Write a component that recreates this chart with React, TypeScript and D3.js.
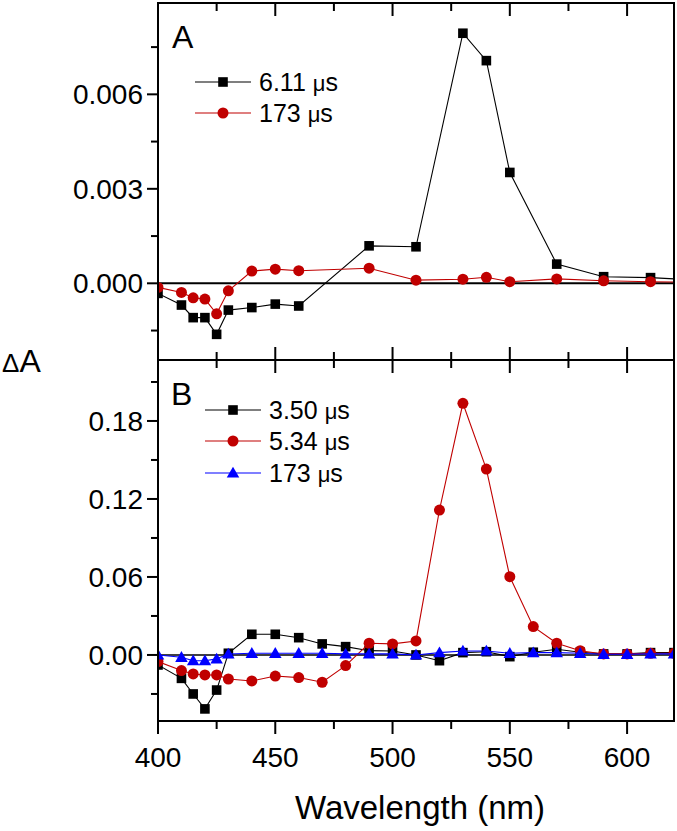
import React from 'react';
import * as d3 from 'd3';

// ---- Data ----
const wlA = [400, 410, 415, 420, 425, 430, 440, 450, 460, 490, 510, 530, 540, 550, 570, 590, 610, 630];
const a611us = [-0.00032, -0.00069, -0.00109, -0.00109, -0.00162, -0.00085, -0.00077, -0.00066, -0.00072, 0.00119, 0.00116, 0.00794, 0.00707, 0.00352, 0.00061, 0.00021, 0.00018, 0.0001];
const a173us = [-0.00013, -0.00029, -0.00046, -0.0005, -0.00097, -0.00024, 0.00039, 0.00045, 0.0004, 0.00048, 0.0001, 0.00013, 0.00019, 0.00005, 0.00014, 0.00008, 0.00005, 0.00003];

const wlB = [400, 410, 415, 420, 425, 430, 440, 450, 460, 470, 480, 490, 500, 510, 520, 530, 540, 550, 560, 570, 580, 590, 600, 610, 620];
const b350us = [-0.0077, -0.018, -0.03, -0.0415, -0.027, 0.0013, 0.0159, 0.0159, 0.0133, 0.0085, 0.0064, 0.0033, 0.0031, 0.0, -0.0044, 0.0018, 0.0025, -0.0013, 0.0021, 0.0044, 0.0021, 0.0008, 0.0008, 0.0018, 0.0018];
const b534us = [-0.0051, -0.012, -0.0146, -0.0154, -0.0154, -0.0185, -0.02, -0.0162, -0.0174, -0.021, -0.0082, 0.009, 0.0085, 0.0108, 0.1115, 0.1936, 0.143, 0.0602, 0.0218, 0.009, 0.0033, 0.0008, 0.0008, 0.0013, 0.0013];
const b173us = [0.0, -0.0018, -0.0044, -0.0044, -0.003, 0.0008, 0.0013, 0.0013, 0.0013, 0.0013, 0.0008, 0.0008, 0.0008, 0.0, 0.0018, 0.0031, 0.0031, 0.0013, 0.0018, 0.0018, 0.0013, 0.0005, 0.0005, 0.0008, 0.0008];

const xTicks = [400, 425, 450, 475, 500, 525, 550, 575, 600];
const xMajor = [400, 450, 500, 550, 600];
const yTicksA = [-0.0015, 0, 0.0015, 0.003, 0.0045, 0.006, 0.0075];
const yMajorA = [0, 0.003, 0.006];
const yTicksB = [-0.03, 0, 0.03, 0.06, 0.09, 0.12, 0.15, 0.18, 0.21];
const yMajorB = [0, 0.06, 0.12, 0.18];

const legendA = ['6.11', '173'];
const legendB = ['3.50', '5.34', '173'];

const RED = '#c00000';
const BLUE = '#0000ff';
const BLACK = '#000000';
const FONT = '"Liberation Sans", Arial, Helvetica, sans-serif';

// ---- Layout ----
const L = 158, R = 674;
const A_TOP = 3, A_BOT = 360, B_TOP = 360, B_BOT = 721;

const x = d3.scaleLinear().domain([400, 620]).range([L, R]);
const yA = d3.scaleLinear().domain([-0.002435, 0.0089]).range([A_BOT, A_TOP]);
const yB = d3.scaleLinear().domain([-0.0508, 0.2269]).range([B_BOT, B_TOP]);

type Shape = 'square' | 'circle' | 'triangle';

function Marker({ cx, cy, shape, color }: { cx: number; cy: number; shape: Shape; color: string }) {
  if (shape === 'square') return <rect x={cx - 4.8} y={cy - 4.8} width={9.6} height={9.6} fill={color} />;
  if (shape === 'circle') return <circle cx={cx} cy={cy} r={5.5} fill={color} />;
  const sym = d3.symbol().type(d3.symbolTriangle).size(68)();
  return <path d={sym || ''} transform={`translate(${cx},${cy + 1})`} fill={color} />;
}

function Series({ xs, ys, y, shape, color, clip }: { xs: number[]; ys: number[]; y: d3.ScaleLinear<number, number>; shape: Shape; color: string; clip: string }) {
  const line = d3.line<number>().x((_, i) => x(xs[i])).y((d) => y(d));
  return (
    <g clipPath={`url(#${clip})`}>
      <path d={line(ys) || ''} fill="none" stroke={color} strokeWidth={1.1} />
      {ys.map((v, i) => (
        <Marker key={i} cx={x(xs[i])} cy={y(v)} shape={shape} color={color} />
      ))}
    </g>
  );
}

function Legend({ x0, ys, labels, shapes, colors }: { x0: number; ys: number[]; labels: string[]; shapes: Shape[]; colors: string[] }) {
  return (
    <g>
      {labels.map((lab, i) => (
        <g key={i}>
          <line x1={x0} x2={x0 + 56} y1={ys[i]} y2={ys[i]} stroke={colors[i]} strokeWidth={1.1} />
          <Marker cx={x0 + 28} cy={ys[i]} shape={shapes[i]} color={colors[i]} />
          <text x={x0 + 64} y={ys[i] + 9} fontSize={25} fontFamily={FONT}>
            {lab} <tspan fontSize={22}>μ</tspan>s
          </text>
        </g>
      ))}
    </g>
  );
}

export default function App() {
  const tickLabelSize = 28;
  return (
    <svg width={677} height={831} style={{ position: 'absolute', left: 0, top: 0, background: '#fff' }}>
      <defs>
        <clipPath id="clipA"><rect x={L} y={A_TOP} width={R - L} height={A_BOT - A_TOP} /></clipPath>
        <clipPath id="clipB"><rect x={L} y={B_TOP} width={R - L} height={B_BOT - B_TOP} /></clipPath>
      </defs>
      <rect x={0} y={0} width={677} height={831} fill="#fff" />

      {/* zero lines */}
      <line x1={L} x2={R} y1={yA(0)} y2={yA(0)} stroke={BLACK} strokeWidth={2} />
      <line x1={L} x2={R} y1={yB(0)} y2={yB(0)} stroke={BLACK} strokeWidth={1.5} />

      {/* series */}
      <Series xs={wlA} ys={a611us} y={yA} shape="square" color={BLACK} clip="clipA" />
      <Series xs={wlA} ys={a173us} y={yA} shape="circle" color={RED} clip="clipA" />
      <Series xs={wlB} ys={b350us} y={yB} shape="square" color={BLACK} clip="clipB" />
      <Series xs={wlB} ys={b534us} y={yB} shape="circle" color={RED} clip="clipB" />
      <Series xs={wlB} ys={b173us} y={yB} shape="triangle" color={BLUE} clip="clipB" />

      {/* frames */}
      <rect x={L} y={A_TOP} width={R - L} height={A_BOT - A_TOP} fill="none" stroke={BLACK} strokeWidth={2} />
      <rect x={L} y={B_TOP} width={R - L} height={B_BOT - B_TOP} fill="none" stroke={BLACK} strokeWidth={2} />

      {/* x ticks */}
      {xTicks.map((t) => {
        const major = xMajor.includes(t);
        const len = major ? 13 : 8;
        const xx = x(t);
        return (
          <g key={t} stroke={BLACK} strokeWidth={2}>
            <line x1={xx} x2={xx} y1={A_TOP} y2={A_TOP + len} />
            <line x1={xx} x2={xx} y1={A_BOT} y2={A_BOT - len} />
            <line x1={xx} x2={xx} y1={B_TOP} y2={B_TOP + len} />
            <line x1={xx} x2={xx} y1={B_BOT} y2={B_BOT + len} />
          </g>
        );
      })}
      {xMajor.map((t) => (
        <text key={t} x={x(t)} y={B_BOT + 46} textAnchor="middle" fontSize={tickLabelSize} fontFamily={FONT}>
          {t}
        </text>
      ))}

      {/* y ticks A */}
      {yTicksA.map((t) => {
        const major = yMajorA.some((m) => Math.abs(m - t) < 1e-9);
        return (
          <line key={t} x1={L} x2={L - (major ? 11 : 7)} y1={yA(t)} y2={yA(t)} stroke={BLACK} strokeWidth={2} />
        );
      })}
      {yMajorA.map((t) => (
        <text key={t} x={L - 15} y={yA(t) + 10} textAnchor="end" fontSize={tickLabelSize} fontFamily={FONT}>
          {d3.format('.3f')(t)}
        </text>
      ))}

      {/* y ticks B */}
      {yTicksB.map((t) => {
        const major = yMajorB.some((m) => Math.abs(m - t) < 1e-9);
        return (
          <line key={t} x1={L} x2={L - (major ? 11 : 7)} y1={yB(t)} y2={yB(t)} stroke={BLACK} strokeWidth={2} />
        );
      })}
      {yMajorB.map((t) => (
        <text key={t} x={L - 15} y={yB(t) + 10} textAnchor="end" fontSize={tickLabelSize} fontFamily={FONT}>
          {d3.format('.2f')(t)}
        </text>
      ))}

      {/* panel letters */}
      <text x={172} y={48} fontSize={32} fontFamily={FONT}>A</text>
      <text x={171} y={405} fontSize={32} fontFamily={FONT}>B</text>

      {/* legends */}
      <Legend x0={195} ys={[82, 113]} labels={legendA} shapes={['square', 'circle']} colors={[BLACK, RED]} />
      <Legend x0={205} ys={[410, 441, 473]} labels={legendB} shapes={['square', 'circle', 'triangle']} colors={[BLACK, RED, BLUE]} />

      {/* axis titles */}
      <text x={2} y={372} fontSize={32} fontFamily={FONT}>
        <tspan fontSize={26}>Δ</tspan>A
      </text>
      <text x={(L + R) / 2 + 4} y={819} textAnchor="middle" fontSize={33} fontFamily={FONT}>
        Wavelength (nm)
      </text>
    </svg>
  );
}
